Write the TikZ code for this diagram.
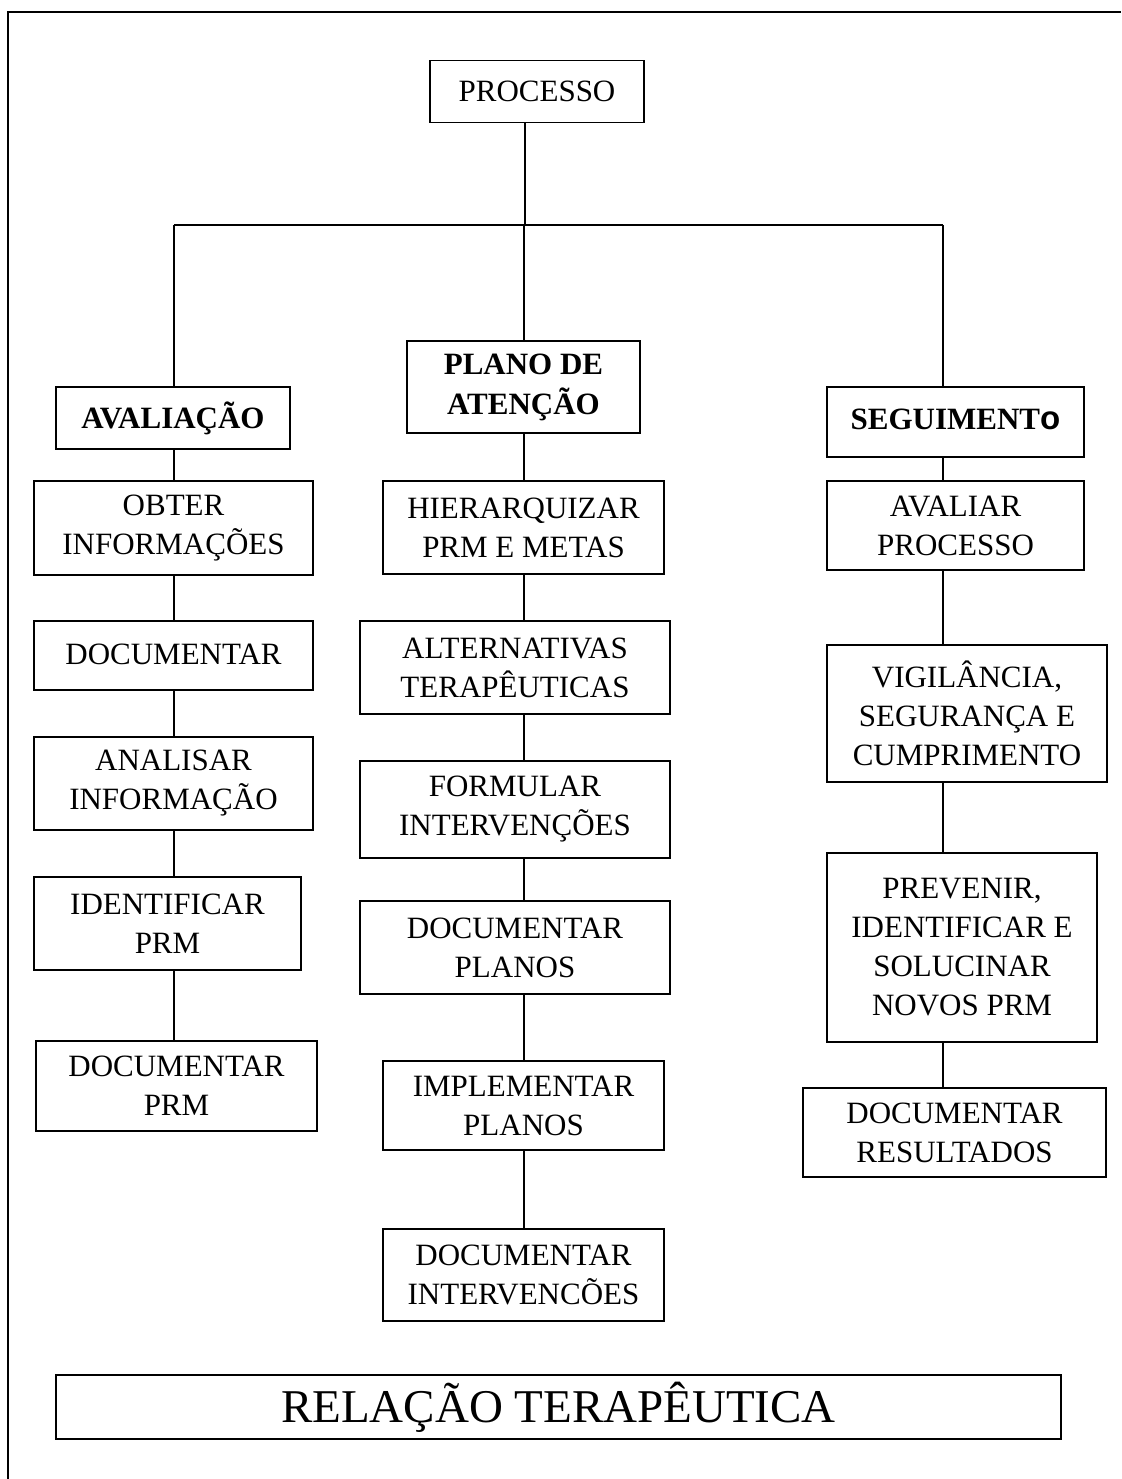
\documentclass[tikz,border=0pt]{standalone}
\usepackage{fontspec}
\setmainfont{Liberation Serif}
\newfontfamily\sansb{Liberation Sans}
\begin{document}
\begin{tikzpicture}[x=1pt,y=-1pt,
  bx/.style={draw, line width=1.7pt, inner sep=0pt, align=center, font=\fontsize{31}{39}\selectfont},
  bbx/.style={bx, font=\fontsize{31}{40}\selectfont\bfseries},
  ln/.style={line width=1.7pt}]
\useasboundingbox (0,0) rectangle (1121,1479);
\draw[line width=2pt] (8,1479) -- (8,12) -- (1121,12);

\coordinate (L) at (174,0);
\coordinate (C) at (524,0);
\coordinate (R) at (943,0);
\coordinate (hub) at (525,225);

% top
\node[bx, minimum width=214pt, minimum height=62pt] (proc) at (537,91.5) {PROCESSO};

% left column
\node[bbx, minimum width=234pt, minimum height=62pt] (aval) at (173,418) {AVALIAÇÃO};
\node[bx, minimum width=279pt, minimum height=94pt] (obter) at (173.5,528) {OBTER\\INFORMAÇÕES};
\node[bx, minimum width=279pt, minimum height=69pt] (doca) at (173.5,655.5) {\raisebox{3pt}{DOCUMENTAR}};
\node[bx, minimum width=279pt, minimum height=93pt] (anal) at (173.5,783.5) {ANALISAR\\INFORMAÇÃO};
\node[bx, minimum width=267pt, minimum height=93pt] (ident) at (167.5,923.5) {IDENTIFICAR\\PRM};
\node[bx, minimum width=281pt, minimum height=90pt] (docprm) at (176.5,1086) {DOCUMENTAR\\PRM};

% center column
\node[bbx, minimum width=233pt, minimum height=92pt] (plano) at (523.5,387) {PLANO DE\\ATENÇÃO};
\node[bx, minimum width=281pt, minimum height=93pt] (hier) at (523.5,527.5) {HIERARQUIZAR\\PRM E METAS};
\node[bx, minimum width=310pt, minimum height=93pt] (alt) at (515,667.5) {ALTERNATIVAS\\TERAPÊUTICAS};
\node[bx, minimum width=310pt, minimum height=97pt] (form) at (515,809.5) {FORMULAR\\INTERVENÇÕES};
\node[bx, minimum width=310pt, minimum height=93pt] (docpl) at (515,947.5) {DOCUMENTAR\\PLANOS};
\node[bx, minimum width=281pt, minimum height=89pt] (impl) at (523.5,1105.5) {IMPLEMENTAR\\PLANOS};
\node[bx, minimum width=281pt, minimum height=92pt] (docint) at (523.5,1275) {DOCUMENTAR\\INTERVENCÕES};

% right column
\node[bbx, minimum width=257pt, minimum height=70pt] (seg) at (955.5,422) {\raisebox{5pt}{SEGUIMENT{\sansb\fontsize{33}{37}\selectfont o}}};
\node[bx, minimum width=257pt, minimum height=89pt] (avpr) at (955.5,525.5) {AVALIAR\\PROCESSO};
\node[bx, minimum width=280pt, minimum height=137pt] (vig) at (967,713.5) {VIGILÂNCIA,\\SEGURANÇA E\\CUMPRIMENTO};
\node[bx, minimum width=270pt, minimum height=189pt] (prev) at (962,947.5) {PREVENIR,\\IDENTIFICAR E\\SOLUCINAR\\NOVOS PRM};
\node[bx, minimum width=303pt, minimum height=89pt] (docres) at (954.5,1132.5) {DOCUMENTAR\\RESULTADOS};

% bottom
\node[draw, line width=1.7pt, inner sep=0pt, minimum width=1005pt, minimum height=64pt, font=\fontsize{47}{52}\selectfont] (rel) at (558.5,1407) {RELAÇÃO TERAPÊUTICA};

% connectors
\draw[ln] (proc.south -| hub) -- (hub);
\draw[ln] (hub -| L) -- (hub -| R);
\draw[ln] (hub -| L) -- (aval.north -| L);
\draw[ln] (hub -| C) -- (plano.north -| C);
\draw[ln] (hub -| R) -- (seg.north -| R);

\draw[ln] (aval.south -| L) -- (obter.north -| L);
\draw[ln] (obter.south -| L) -- (doca.north -| L);
\draw[ln] (doca.south -| L) -- (anal.north -| L);
\draw[ln] (anal.south -| L) -- (ident.north -| L);
\draw[ln] (ident.south -| L) -- (docprm.north -| L);

\draw[ln] (plano.south -| C) -- (hier.north -| C);
\draw[ln] (hier.south -| C) -- (alt.north -| C);
\draw[ln] (alt.south -| C) -- (form.north -| C);
\draw[ln] (form.south -| C) -- (docpl.north -| C);
\draw[ln] (docpl.south -| C) -- (impl.north -| C);
\draw[ln] (impl.south -| C) -- (docint.north -| C);

\draw[ln] (seg.south -| R) -- (avpr.north -| R);
\draw[ln] (avpr.south -| R) -- (vig.north -| R);
\draw[ln] (vig.south -| R) -- (prev.north -| R);
\draw[ln] (prev.south -| R) -- (docres.north -| R);
\end{tikzpicture}
\end{document}
